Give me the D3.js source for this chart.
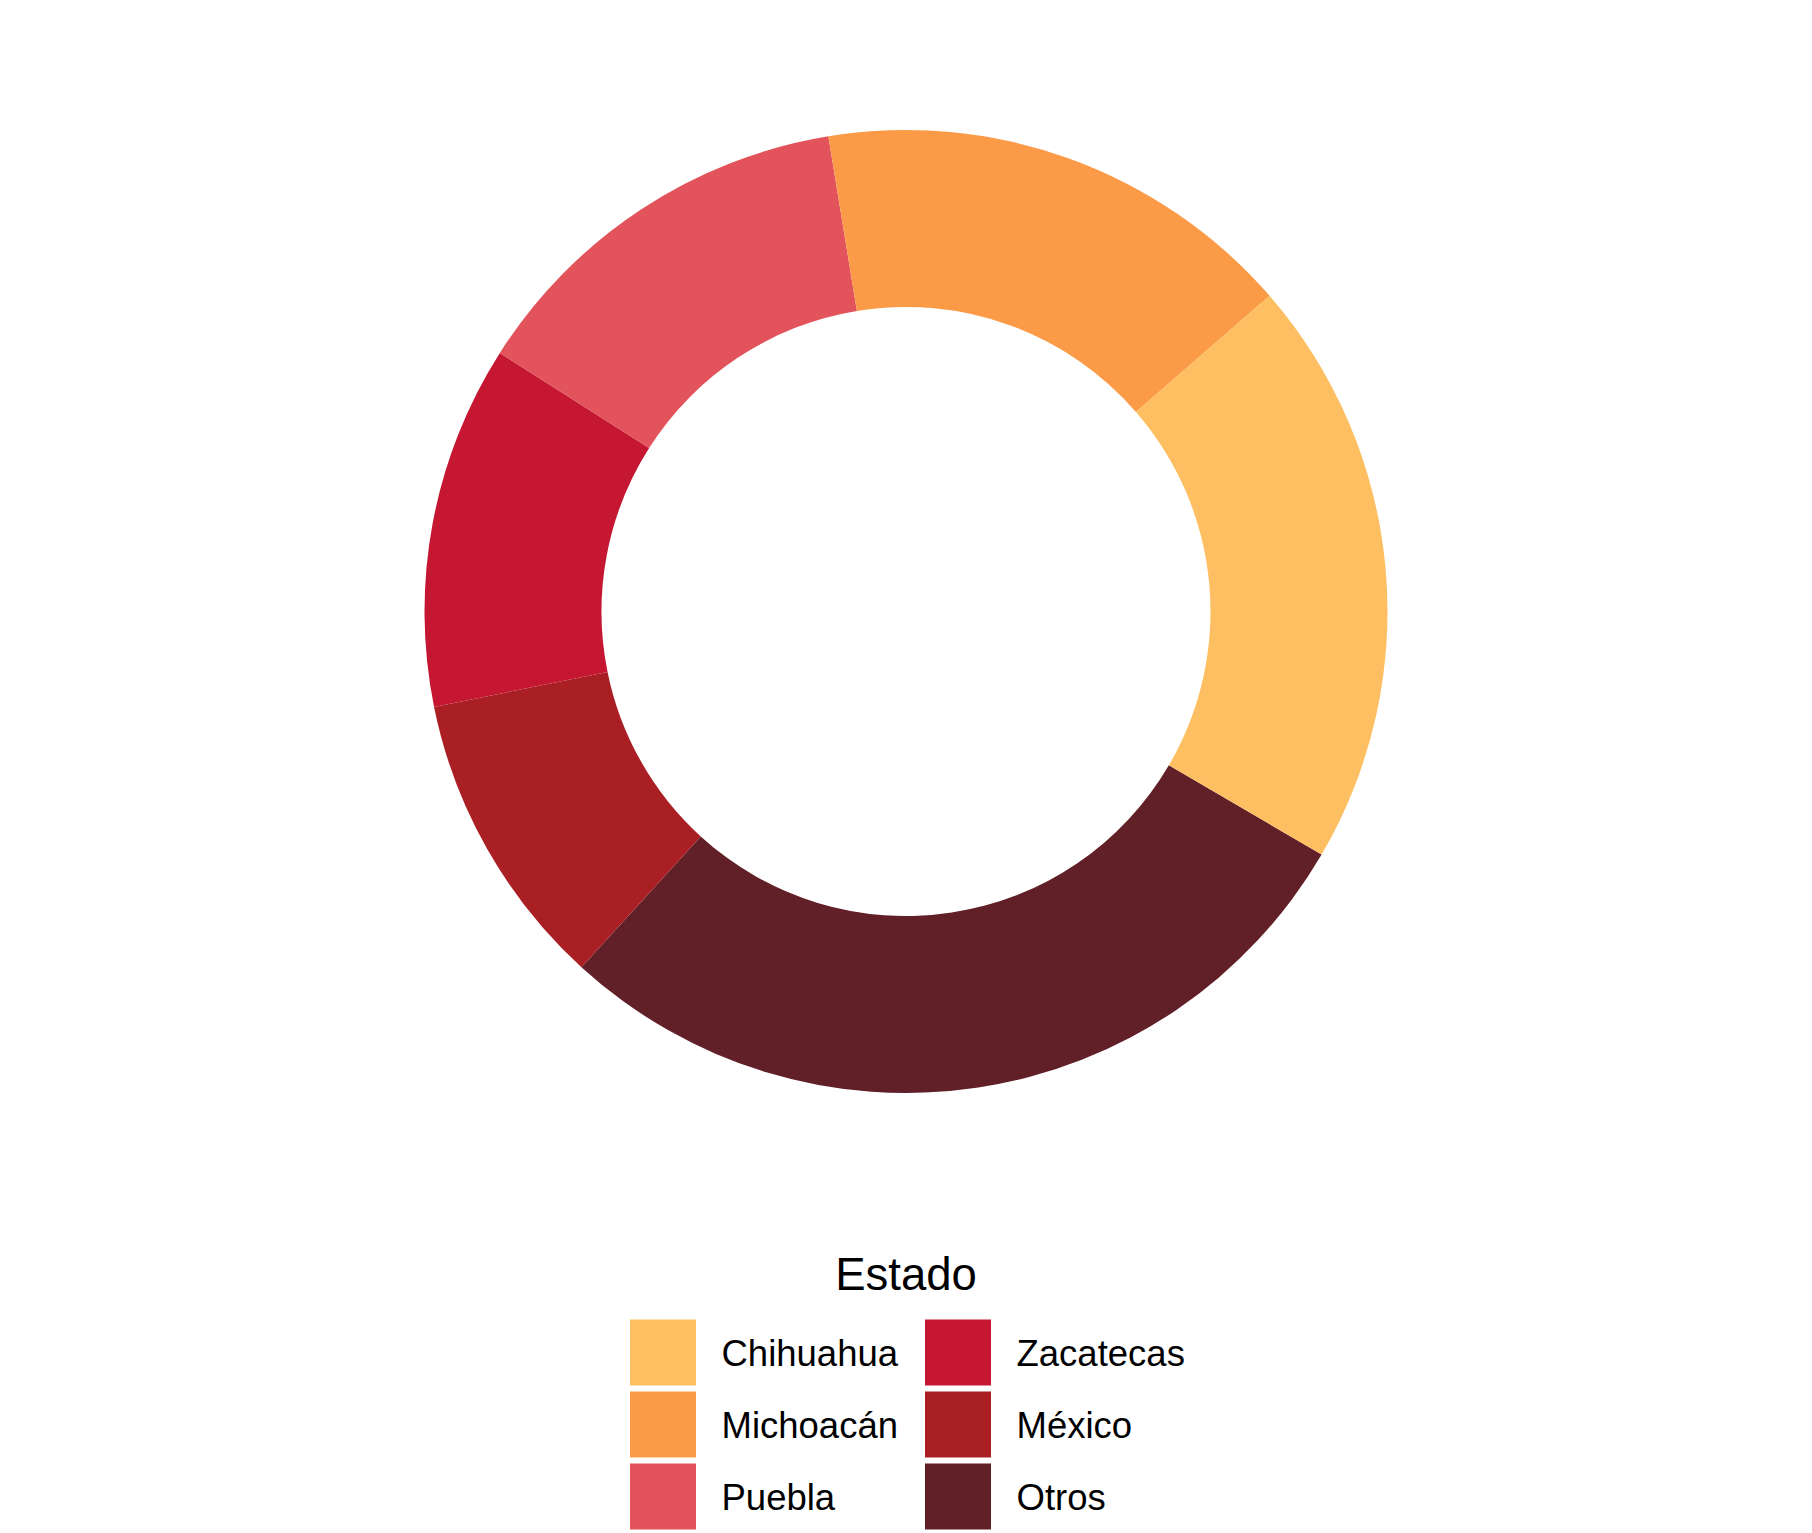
<!DOCTYPE html>
<html>
<head>
<meta charset="utf-8">
<script src="https://cdn.jsdelivr.net/npm/d3@7"></script>
<style>
  html, body { margin: 0; padding: 0; background: #ffffff; }
  svg { display: block; }
  text { font-family: "Liberation Sans", Arial, Helvetica, sans-serif; }
</style>
</head>
<body>
<svg id="chart" width="1812" height="1533"></svg>
<script>
// Data (percent share), drawn clockwise starting from Otros
const categories = ["Otros", "México", "Zacatecas", "Puebla", "Michoacán", "Chihuahua"];
const values = [28.35, 10.05, 12.2, 13.4, 16.2, 19.8];
const colors = ["#611F28", "#AA1F24", "#C51732", "#E2535C", "#FB9B48", "#FDBF62"];
const legendOrder = ["Chihuahua", "Michoacán", "Puebla", "Zacatecas", "México", "Otros"];
const legendTitle = "Estado";

const W = 1812, H = 1533;
const cx = 906, cy = 611.5;
const outerR = 481.5, innerR = 304.5;
const startOffset = 2.1; // radians, like coord_polar(start = 2.1)

const svg = d3.select("#chart");
const color = d3.scaleOrdinal().domain(categories).range(colors);

const pie = d3.pie().sort(null).value(d => d.value)
  .startAngle(startOffset).endAngle(startOffset + 2 * Math.PI);
const arc = d3.arc().innerRadius(innerR).outerRadius(outerR);

const data = categories.map((c, i) => ({ name: c, value: values[i] }));

svg.append("g").attr("transform", `translate(${cx},${cy})`)
  .selectAll("path").data(pie(data)).join("path")
  .attr("d", arc)
  .attr("fill", d => color(d.data.name));

// Legend
const lg = svg.append("g");
lg.append("text").attr("x", 906).attr("y", 1290)
  .attr("text-anchor", "middle").attr("font-size", 45.5).attr("fill", "#000")
  .text(legendTitle);

const keySize = 66, pitch = 72, nRows = 3;
const colX = [630, 925];
const rowY0 = 1319.5;
legendOrder.forEach((name, i) => {
  const col = Math.floor(i / nRows), row = i % nRows;
  const x = colX[col], y = rowY0 + row * pitch;
  lg.append("rect").attr("x", x).attr("y", y)
    .attr("width", keySize).attr("height", keySize)
    .attr("fill", color(name));
  lg.append("text").attr("x", x + 91.5).attr("y", y + keySize / 2)
    .attr("dy", "0.36em").attr("font-size", 36.5).attr("fill", "#000")
    .text(name);
});
</script>
</body>
</html>
